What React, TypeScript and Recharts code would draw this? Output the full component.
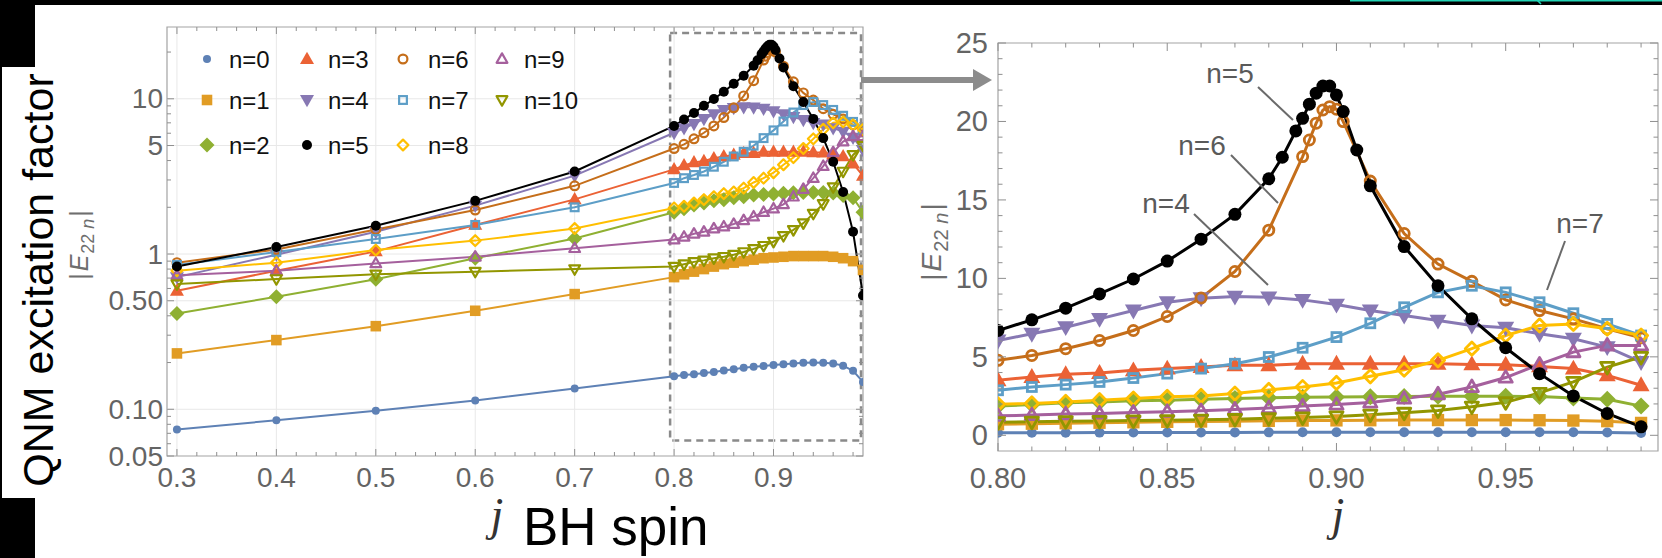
import React from 'react';
import { LineChart, Line, XAxis, YAxis, ReferenceLine, ReferenceArea, Legend } from 'recharts';

// spin samples (j)
const SPIN_COARSE = [0.3, 0.4, 0.5, 0.6, 0.7];
const SPIN_FINE = [0.80, 0.81, 0.82, 0.83, 0.84, 0.85, 0.86, 0.87, 0.88, 0.89, 0.90, 0.91, 0.92, 0.93, 0.94, 0.95, 0.96, 0.97, 0.98, 0.99];

// |E_22n| for each overtone, coarse samples followed by fine samples
const E0 = [0.074, 0.085, 0.098, 0.114, 0.136, 0.163, 0.166, 0.168, 0.171, 0.174, 0.178, 0.181, 0.185, 0.188, 0.190, 0.193, 0.195, 0.197, 0.199, 0.200, 0.199, 0.197, 0.191, 0.177, 0.150];
const E1 = [0.229, 0.279, 0.343, 0.431, 0.552, 0.71, 0.74, 0.77, 0.80, 0.83, 0.86, 0.88, 0.90, 0.92, 0.94, 0.95, 0.96, 0.97, 0.97, 0.97, 0.97, 0.96, 0.94, 0.90, 0.79];
const E2 = [0.414, 0.531, 0.687, 0.94, 1.26, 1.86, 1.96, 2.07, 2.13, 2.20, 2.24, 2.30, 2.34, 2.40, 2.42, 2.44, 2.46, 2.48, 2.49, 2.49, 2.49, 2.47, 2.38, 2.30, 1.86];
const E3 = [0.58, 0.78, 1.04, 1.54, 2.25, 3.51, 3.72, 3.89, 3.97, 4.14, 4.25, 4.35, 4.46, 4.46, 4.56, 4.56, 4.56, 4.56, 4.56, 4.52, 4.50, 4.39, 4.25, 3.82, 3.19];
const E4 = [0.71, 0.99, 1.39, 2.05, 3.2, 6.04, 6.47, 6.89, 7.42, 7.95, 8.48, 8.73, 8.84, 8.79, 8.63, 8.33, 7.95, 7.63, 7.31, 7.00, 6.85, 6.47, 6.15, 5.62, 4.67];
const E5 = [0.83, 1.11, 1.52, 2.20, 3.40, 6.68, 7.36, 8.10, 9.01, 9.96, 11.1, 12.5, 14.08, 16.35, 20.2, 21.69, 15.9, 12.03, 9.53, 7.42, 5.58, 3.93, 2.51, 1.39, 0.54];
const E6 = [0.88, 1.07, 1.44, 1.92, 2.75, 4.78, 5.09, 5.52, 6.04, 6.68, 7.57, 8.75, 10.44, 13.07, 17.76, 20.78, 16.2, 12.86, 10.91, 9.81, 8.63, 7.95, 7.42, 6.79, 6.21];
const E7 = [0.85, 1.03, 1.25, 1.54, 2.0, 2.87, 3.08, 3.23, 3.40, 3.65, 3.93, 4.25, 4.56, 4.99, 5.58, 6.26, 7.14, 8.16, 9.11, 9.53, 9.11, 8.48, 7.78, 7.10, 6.36];
const E8 = [0.78, 0.88, 1.06, 1.22, 1.46, 1.98, 2.03, 2.13, 2.24, 2.34, 2.45, 2.51, 2.66, 2.89, 3.08, 3.34, 3.76, 4.18, 4.78, 5.52, 6.36, 7.0, 7.10, 6.79, 6.36];
const E9 = [0.73, 0.78, 0.87, 0.96, 1.09, 1.24, 1.29, 1.35, 1.39, 1.46, 1.50, 1.56, 1.65, 1.74, 1.86, 1.96, 2.09, 2.34, 2.62, 3.08, 3.68, 4.52, 5.30, 5.73, 5.73];
const E10 = [0.64, 0.69, 0.74, 0.77, 0.80, 0.83, 0.86, 0.89, 0.91, 0.94, 0.96, 0.99, 1.03, 1.08, 1.13, 1.20, 1.31, 1.43, 1.58, 1.82, 2.10, 2.70, 3.40, 4.35, 4.99];

// extra samples around the resonance peak
const SPIN_PEAK_5 = [0.884, 0.888, 0.892, 0.894, 0.896, 0.898, 0.902, 0.906];
const E5_PEAK = [17.72, 19.40, 21.1, 21.8, 22.26, 22.26, 20.63, 18.18];
const SPIN_PEAK_6 = [0.892, 0.894, 0.896, 0.898, 0.902];
const E6_PEAK = [18.82, 19.89, 20.73, 20.94, 19.99];

// axis ticks
const LEFT_X_LABELS = [0.3, 0.4, 0.5, 0.6, 0.7, 0.8, 0.9];
const LEFT_Y_MAJOR = [0.05, 0.1, 0.5, 1, 5, 10];
const LEFT_Y_LABELS = ['0.05', '0.10', '0.50', '1', '5', '10'];
const LEFT_Y_MINOR = [0.06, 0.07, 0.08, 0.09, 0.2, 0.3, 0.4, 0.6, 0.7, 0.8, 0.9, 2, 3, 4, 6, 7, 8, 9, 20];
const RIGHT_Y_LABELS = [0, 5, 10, 15, 20, 25];

const LEFT_X_TICKS = Array.from({ length: 35 }, (_, i) => Math.round((0.3 + i * 0.02) * 1000) / 1000);
const RIGHT_X_TICKS = Array.from({ length: 20 }, (_, i) => Math.round((0.8 + i * 0.01) * 1000) / 1000);
const RIGHT_Y_TICKS = Array.from({ length: 26 }, (_, i) => i);
const LEFT_Y_TICKS = [...LEFT_Y_MAJOR, ...LEFT_Y_MINOR].sort((a, b) => a - b);

type Shape = 'circle' | 'square' | 'diamond' | 'up' | 'down';
type Pt = { j: number; v: number };

const build = (vals: number[], peakSpins: number[] = [], peakVals: number[] = []): Pt[] => {
  const pts = [...SPIN_COARSE, ...SPIN_FINE].map((j, i) => ({ j, v: vals[i] }));
  peakSpins.forEach((j, i) => pts.push({ j, v: peakVals[i] }));
  return pts.sort((a, b) => a.j - b.j);
};

const SERIES = [
  { n: 0, color: '#5E81B5', shape: 'circle' as Shape, filled: true, small: 8, big: 10, data: build(E0) },
  { n: 1, color: '#E19C24', shape: 'square' as Shape, filled: true, small: 12, big: 14, data: build(E1) },
  { n: 2, color: '#8FB032', shape: 'diamond' as Shape, filled: true, small: 15, big: 17, data: build(E2) },
  { n: 3, color: '#EB6235', shape: 'up' as Shape, filled: true, small: 14, big: 17, data: build(E3) },
  { n: 4, color: '#8778B3', shape: 'down' as Shape, filled: true, small: 14, big: 17, data: build(E4) },
  { n: 5, color: '#000000', shape: 'circle' as Shape, filled: true, small: 10, big: 13, data: build(E5, SPIN_PEAK_5, E5_PEAK) },
  { n: 6, color: '#C56E1A', shape: 'circle' as Shape, filled: false, small: 11, big: 13, data: build(E6, SPIN_PEAK_6, E6_PEAK) },
  { n: 7, color: '#5D9EC7', shape: 'square' as Shape, filled: false, small: 11, big: 13, data: build(E7) },
  { n: 8, color: '#FFBF00', shape: 'diamond' as Shape, filled: false, small: 13, big: 16, data: build(E8) },
  { n: 9, color: '#A5609D', shape: 'up' as Shape, filled: false, small: 13, big: 16, data: build(E9) },
  { n: 10, color: '#929600', shape: 'down' as Shape, filled: false, small: 13, big: 16, data: build(E10) },
];
// black curve is drawn on top
const DRAW_ORDER = [0, 1, 2, 3, 4, 6, 7, 8, 9, 10, 5];

const SANS = '"Liberation Sans", Arial, Helvetica, sans-serif';
const SERIF = '"Liberation Serif", "DejaVu Serif", serif';
const FRAME = '#a3a3a3';
const TICK = '#8f8f8f';
const LABEL = '#646464';
const GRID = '#e8e8e8';

// plot boxes (chart-local pixels)
const L = { w: 880, h: 558, top: 27, bottom: 456, left: 167, right: 863 };
const R = { x: 880, w: 782, h: 558, top: 43, bottom: 451, left: 118, right: 778 };

const Marker = ({ cx, cy, shape, color, size, filled, sw }: any) => {
  if (cx == null || cy == null || isNaN(cx) || isNaN(cy)) return null;
  const r = size / 2;
  const fill = filled ? color : 'none';
  const stroke = filled ? 'none' : color;
  const rr = filled ? r : r - sw / 2;
  switch (shape as Shape) {
    case 'circle':
      return <circle cx={cx} cy={cy} r={rr} fill={fill} stroke={stroke} strokeWidth={sw} />;
    case 'square': {
      const h = rr * 0.88;
      return <rect x={cx - h} y={cy - h} width={2 * h} height={2 * h} fill={fill} stroke={stroke} strokeWidth={sw} />;
    }
    case 'diamond':
      return <polygon points={`${cx},${cy - rr} ${cx + rr},${cy} ${cx},${cy + rr} ${cx - rr},${cy}`} fill={fill} stroke={stroke} strokeWidth={sw} strokeLinejoin="round" />;
    case 'up':
      return <polygon points={`${cx},${cy - rr * 1.05} ${cx + rr},${cy + rr * 0.7} ${cx - rr},${cy + rr * 0.7}`} fill={fill} stroke={stroke} strokeWidth={sw} strokeLinejoin="round" />;
    case 'down':
      return <polygon points={`${cx},${cy + rr * 1.05} ${cx + rr},${cy - rr * 0.7} ${cx - rr},${cy - rr * 0.7}`} fill={fill} stroke={stroke} strokeWidth={sw} strokeLinejoin="round" />;
  }
  return null;
};

const isMult = (v: number, step: number) => Math.abs(v / step - Math.round(v / step)) < 1e-6;

// ---- left panel ticks (inward, mirrored on top/right) ----
const LeftXTick = ({ x, y, payload }: any) => {
  const v = payload.value;
  const major = isMult(v, 0.1);
  const len = major ? 7 : 4;
  return (
    <g>
      <line x1={x} x2={x} y1={y} y2={y - len} stroke={TICK} strokeWidth={1} />
      <line x1={x} x2={x} y1={L.top} y2={L.top + len} stroke={TICK} strokeWidth={1} />
      {major && (
        <text x={x} y={y + 31} textAnchor="middle" fontSize={28} fontFamily={SANS} fill={LABEL}>
          {v.toFixed(1)}
        </text>
      )}
    </g>
  );
};

const LeftYTick = ({ x, y, payload }: any) => {
  const v = payload.value;
  const idx = LEFT_Y_MAJOR.indexOf(v);
  const len = idx >= 0 ? 7 : 4;
  return (
    <g>
      <line x1={x} x2={x + len} y1={y} y2={y} stroke={TICK} strokeWidth={1} />
      <line x1={L.right} x2={L.right - len} y1={y} y2={y} stroke={TICK} strokeWidth={1} />
      {idx >= 0 && (
        <text x={x - 4} y={y} textAnchor="end" dominantBaseline="central" fontSize={28} fontFamily={SANS} fill={LABEL}>
          {LEFT_Y_LABELS[idx]}
        </text>
      )}
    </g>
  );
};

// ---- right panel ticks ----
const RightXTick = ({ x, y, payload }: any) => {
  const v = payload.value;
  const major = isMult(v, 0.05);
  const len = major ? 8 : 4.5;
  return (
    <g>
      <line x1={x} x2={x} y1={y} y2={y - len} stroke={TICK} strokeWidth={1} />
      <line x1={x} x2={x} y1={R.top} y2={R.top + len} stroke={TICK} strokeWidth={1} />
      {major && (
        <text x={x} y={y + 37} textAnchor="middle" fontSize={29} fontFamily={SANS} fill={LABEL}>
          {v.toFixed(2)}
        </text>
      )}
    </g>
  );
};

const RightYTick = ({ x, y, payload }: any) => {
  const v = payload.value;
  const major = RIGHT_Y_LABELS.includes(v);
  const len = major ? 8 : 4.5;
  return (
    <g>
      <line x1={x} x2={x + len} y1={y} y2={y} stroke={TICK} strokeWidth={1} />
      <line x1={R.right} x2={R.right - len} y1={y} y2={y} stroke={TICK} strokeWidth={1} />
      {major && (
        <text x={x - 10} y={y} textAnchor="end" dominantBaseline="central" fontSize={29} fontFamily={SANS} fill={LABEL}>
          {v}
        </text>
      )}
    </g>
  );
};

// ---- legend (4 columns x 3 rows) ----
const LEG_MARK_X = [17, 117, 213, 312];
const LEG_TEXT_X = [39, 138, 238, 334];
const LEG_ROW_Y = [24, 65, 110];

const LegendBox = () => (
  <svg width={420} height={135} style={{ display: 'block' }}>
    {SERIES.map((s) => {
      const col = Math.floor(s.n / 3);
      const row = s.n % 3;
      return (
        <g key={`leg-${s.n}`}>
          <Marker cx={LEG_MARK_X[col]} cy={LEG_ROW_Y[row]} shape={s.shape} color={s.color} size={s.small} filled={s.filled} sw={2.2} />
          <text x={LEG_TEXT_X[col]} y={LEG_ROW_Y[row]} dominantBaseline="central" fontSize={24} fontFamily={SANS} fill="#111">
            {`n=${s.n}`}
          </text>
        </g>
      );
    })}
  </svg>
);

const EnLabel = ({ x, y, size }: { x: number; y: number; size: number }) => (
  <text transform={`translate(${x},${y}) rotate(-90)`} textAnchor="middle" fontSize={size} fontFamily={SANS} fill="#6e6e6e">
    <tspan>|</tspan>
    <tspan fontStyle="italic" dx={2}>E</tspan>
    <tspan fontSize={size * 0.72} dy={size * 0.25} dx={1}>22</tspan>
    <tspan fontSize={size * 0.72} fontStyle="italic" dx={size * 0.2}>n</tspan>
    <tspan dy={-size * 0.25} dx={2}>|</tspan>
  </text>
);

const LeftPanel = () => (
  <LineChart width={L.w} height={L.h} margin={{ top: L.top, right: L.w - L.right, bottom: L.h - L.bottom - 30, left: 0 }}>
    <XAxis
      dataKey="j"
      type="number"
      domain={[0.29, 0.99]}
      allowDataOverflow
      ticks={LEFT_X_TICKS}
      interval={0}
      tickSize={0}
      tickMargin={0}
      axisLine={false}
      tickLine={false}
      height={30}
      tick={(p: any) => <LeftXTick {...p} />}
    />
    <YAxis
      dataKey="v"
      type="number"
      scale="log"
      domain={[0.05, 29]}
      allowDataOverflow
      ticks={LEFT_Y_TICKS}
      interval={0}
      tickSize={0}
      tickMargin={0}
      axisLine={false}
      tickLine={false}
      width={L.left}
      tick={(p: any) => <LeftYTick {...p} />}
    />
    {LEFT_X_LABELS.map((v) => (
      <ReferenceLine key={`gx-${v}`} x={v} stroke={GRID} strokeWidth={1} />
    ))}
    {LEFT_Y_MAJOR.slice(1).map((v) => (
      <ReferenceLine key={`gy-${v}`} y={v} stroke={GRID} strokeWidth={1} />
    ))}
    <ReferenceArea x1={0.29} x2={0.99} y1={0.05} y2={29} fill="none" stroke={FRAME} strokeWidth={1.2} />
    <ReferenceArea x1={0.796} x2={0.988} y1={0.063} y2={26.5} fill="none" stroke="#8a8a8a" strokeWidth={2.5} strokeDasharray="7 5" />
    {DRAW_ORDER.map((n) => {
      const s = SERIES[n];
      return (
        <Line
          key={`l-${n}`}
          data={s.data}
          dataKey="v"
          stroke={s.color}
          strokeWidth={2}
          isAnimationActive={false}
          activeDot={false}
          dot={(p: any) => (
            <Marker key={`ld-${n}-${p.index}`} cx={p.cx} cy={p.cy} shape={s.shape} color={s.color} size={s.small} filled={s.filled} sw={2.2} />
          )}
        />
      );
    })}
    <Legend
      layout="horizontal"
      verticalAlign="middle"
      align="center"
      wrapperStyle={{ position: 'absolute', left: 190, top: 35, width: 420, height: 135 }}
      content={() => <LegendBox />}
    />
  </LineChart>
);

const RightPanel = () => (
  <LineChart width={R.w} height={R.h} margin={{ top: R.top, right: R.w - R.right, bottom: R.h - R.bottom - 30, left: 0 }}>
    <XAxis
      dataKey="j"
      type="number"
      domain={[0.8, 0.995]}
      allowDataOverflow
      ticks={RIGHT_X_TICKS}
      interval={0}
      tickSize={0}
      tickMargin={0}
      axisLine={false}
      tickLine={false}
      height={30}
      tick={(p: any) => <RightXTick {...p} />}
    />
    <YAxis
      dataKey="v"
      type="number"
      domain={[-1, 25]}
      allowDataOverflow
      ticks={RIGHT_Y_TICKS}
      interval={0}
      tickSize={0}
      tickMargin={0}
      axisLine={false}
      tickLine={false}
      width={R.left}
      tick={(p: any) => <RightYTick {...p} />}
    />
    <ReferenceArea x1={0.8} x2={0.995} y1={-1} y2={25} fill="none" stroke={FRAME} strokeWidth={1.2} />
    {DRAW_ORDER.map((n) => {
      const s = SERIES[n];
      return (
        <Line
          key={`r-${n}`}
          data={s.data.filter((d) => d.j >= 0.8)}
          dataKey="v"
          stroke={s.color}
          strokeWidth={3}
          isAnimationActive={false}
          activeDot={false}
          dot={(p: any) => (
            <Marker key={`rd-${n}-${p.index}`} cx={p.cx} cy={p.cy} shape={s.shape} color={s.color} size={s.big} filled={s.filled} sw={2.8} />
          )}
        />
      );
    })}
  </LineChart>
);

// curve labels on the right panel: text anchor + leader line (page pixels)
const CALLOUTS = [
  { text: 'n=5', tx: 1230, ty: 83, line: [1258, 87, 1293, 120] },
  { text: 'n=6', tx: 1202, ty: 155, line: [1231, 155, 1278, 203] },
  { text: 'n=4', tx: 1166, ty: 213, line: [1194, 214, 1268, 285] },
  { text: 'n=7', tx: 1580, ty: 233, line: [1565, 241, 1547, 290] },
];

const Overlay = () => (
  <svg width={1662} height={558} style={{ position: 'absolute', left: 0, top: 0, pointerEvents: 'none' }}>
    {/* slide frame remnants */}
    <rect x={0} y={0} width={1662} height={5} fill="#000" />
    <rect x={0} y={0} width={35} height={67} fill="#000" />
    <rect x={0} y={498} width={35} height={60} fill="#000" />
    <rect x={0} y={0} width={2} height={558} fill="#000" />
    <line x1={1350} x2={1662} y1={0.8} y2={0.8} stroke="#22d3b5" strokeWidth={1.6} />
    <line x1={1537} x2={1541} y1={0} y2={4} stroke="#22d3b5" strokeWidth={1.6} />

    {/* zoom arrow */}
    <line x1={861} x2={976} y1={80} y2={80} stroke="#8c8c8c" strokeWidth={6} />
    <polygon points="973,69 992,80 973,91" fill="#8c8c8c" />

    {/* left axis labels */}
    <text transform="translate(53,280) rotate(-90)" textAnchor="middle" fontSize={43} fontFamily={SANS} fill="#000">
      QNM excitation factor
    </text>
    <EnLabel x={88} y={245} size={25} />
    <text x={497} y={530} textAnchor="middle" fontSize={46} fontFamily={SERIF} fontStyle="italic" fill="#333">j</text>
    <text x={523} y={545} fontSize={53} fontFamily={SANS} fill="#000">BH spin</text>

    {/* right axis labels */}
    <EnLabel x={941} y={242} size={28} />
    <text x={1338} y={530} textAnchor="middle" fontSize={46} fontFamily={SERIF} fontStyle="italic" fill="#333">j</text>

    {CALLOUTS.map((c) => (
      <g key={c.text}>
        <text x={c.tx} y={c.ty} textAnchor="middle" fontSize={28} fontFamily={SANS} fill="#5a5a5a">{c.text}</text>
        <line x1={c.line[0]} y1={c.line[1]} x2={c.line[2]} y2={c.line[3]} stroke="#6a6a6a" strokeWidth={2} />
      </g>
    ))}
  </svg>
);

export default function App() {
  return (
    <div style={{ position: 'absolute', left: 0, top: 0, width: 1662, height: 558, background: '#fff', overflow: 'hidden' }}>
      <div style={{ position: 'absolute', left: 0, top: 0 }}>
        <LeftPanel />
      </div>
      <div style={{ position: 'absolute', left: R.x, top: 0 }}>
        <RightPanel />
      </div>
      <Overlay />
    </div>
  );
}
